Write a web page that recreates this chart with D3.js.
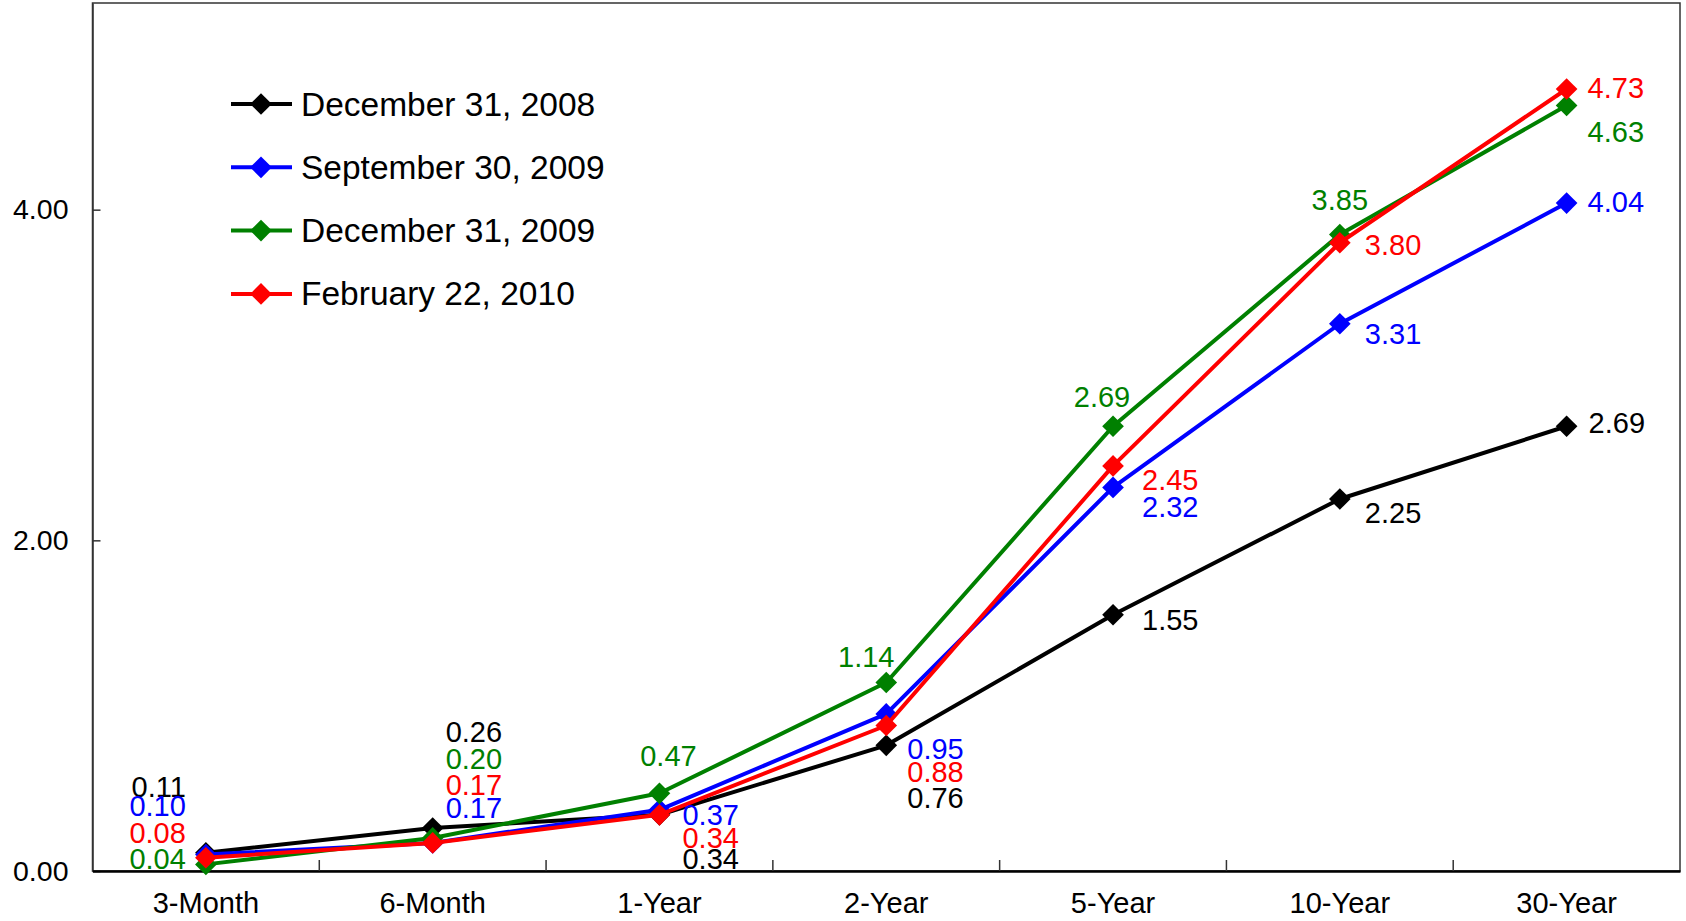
<!DOCTYPE html>
<html>
<head>
<meta charset="utf-8">
<script src="https://cdn.jsdelivr.net/npm/d3@7"></script>
<style>
  body { margin: 0; background: #fff; }
  svg text { font-family: "Liberation Sans", Arial, sans-serif; }
</style>
</head>
<body>
<div id="chart"></div>
<script>
/* global d3 */
var categories = ["3-Month", "6-Month", "1-Year", "2-Year", "5-Year", "10-Year", "30-Year"];
var seriesNames = ["December 31, 2008", "September 30, 2009", "December 31, 2009", "February 22, 2010"];
var seriesColors = ["#000000", "#0000ff", "#008000", "#ff0000"];

var dec2008 = [0.11, 0.26, 0.34, 0.76, 1.55, 2.25, 2.69];
var sep2009 = [0.10, 0.17, 0.37, 0.95, 2.32, 3.31, 4.04];
var dec2009 = [0.04, 0.20, 0.47, 1.14, 2.69, 3.85, 4.63];
var feb2010 = [0.08, 0.17, 0.34, 0.88, 2.45, 3.80, 4.73];

var yTicks = [0, 2, 4];

// label placement: [dx, dy, anchor] relative to each point
var labelPlace = [
  [[-20, -66, "end"], [13, -96, "start"], [23, 44, "start"], [21, 53, "start"], [29, 5, "start"], [25, 14, "start"], [22, -3, "start"]],
  [[-20, -48, "end"], [13, -35, "start"], [23, 5, "start"], [21, 35, "start"], [29, 20, "start"], [25, 10, "start"], [21, -1, "start"]],
  [[-20, -5, "end"], [13, -79, "start"], [9, -37, "middle"], [-20, -26, "middle"], [-11, -29, "middle"], [0, -34, "middle"], [21, 26, "start"]],
  [[-20, -25, "end"], [13, -58, "start"], [23, 23, "start"], [21, 46, "start"], [29, 14, "start"], [25, 2, "start"], [21, -1, "start"]]
];

var allSeries = [dec2008, sep2009, dec2009, feb2010];

var width = 1686,
  height = 921,
  margin = {top: 3, right: 6, bottom: 50, left: 92.5};

var svg = d3.select("#chart").append("svg")
  .attr("width", width)
  .attr("height", height);

var xScale = d3.scaleBand()
  .domain(categories)
  .range([margin.left, width - margin.right]);

var yScale = d3.scaleLinear()
  .domain([0, 5.25])
  .range([height - margin.bottom, margin.top]);

function X(d, i) { return xScale(categories[i]) + xScale.bandwidth() / 2; }
function Y(d) { return yScale(d); }

// frame
svg.append("rect")
  .attr("x", margin.left)
  .attr("y", margin.top)
  .attr("width", width - margin.right - margin.left)
  .attr("height", height - margin.bottom - margin.top)
  .attr("fill", "none")
  .attr("stroke", "#333")
  .attr("stroke-width", 1.5);

// y axis, ticks pointing inward
var yAxis = svg.append("g")
  .attr("transform", "translate(" + margin.left + ",0)")
  .call(d3.axisLeft(yScale)
    .tickValues(yTicks)
    .tickFormat(d3.format(".2f"))
    .tickSizeInner(-8)
    .tickSizeOuter(0)
    .tickPadding(24));
yAxis.select(".domain").attr("stroke", "#333").attr("stroke-width", 1.5);
yAxis.selectAll(".tick line").attr("stroke", "#333").attr("stroke-width", 1.5);
yAxis.selectAll("text").attr("font-size", 28.5).attr("fill", "#000");

// x axis
var xAxis = svg.append("g")
  .attr("transform", "translate(0," + (height - margin.bottom) + ")")
  .call(d3.axisBottom(xScale).tickSize(0).tickPadding(21));
xAxis.select(".domain").attr("stroke", "#000").attr("stroke-width", 2.5);
xAxis.selectAll("text").attr("font-size", 29).attr("fill", "#000");

// category boundary ticks
svg.append("g").selectAll("line")
  .data(categories.slice(1))
  .enter().append("line")
  .attr("x1", function (d) { return xScale(d); })
  .attr("x2", function (d) { return xScale(d); })
  .attr("y1", height - margin.bottom)
  .attr("y2", height - margin.bottom - 11)
  .attr("stroke", "#333")
  .attr("stroke-width", 1.5);

var line = d3.line()
  .x(X)
  .y(Y);

var diamond = d3.symbol().type(d3.symbolSquare).size(235);

allSeries.forEach(function (values, s) {
  var g = svg.append("g").attr("class", "series");
  g.append("path")
    .datum(values)
    .attr("d", line)
    .attr("fill", "none")
    .attr("stroke", seriesColors[s])
    .attr("stroke-width", 4)
    .attr("stroke-linejoin", "round");

  g.selectAll(".pt")
    .data(values)
    .enter().append("path")
    .attr("class", "pt")
    .attr("d", diamond)
    .attr("transform", function (d, i) { return "translate(" + X(d, i) + "," + Y(d) + ") rotate(45)"; })
    .attr("fill", seriesColors[s]);
});

// data labels (drawn after all lines)
allSeries.forEach(function (values, s) {
  svg.append("g").selectAll("text")
    .data(values)
    .enter().append("text")
    .attr("x", function (d, i) { return X(d, i) + labelPlace[s][i][0]; })
    .attr("y", function (d, i) { return Y(d) + labelPlace[s][i][1]; })
    .attr("text-anchor", function (d, i) { return labelPlace[s][i][2]; })
    .attr("dominant-baseline", "central")
    .attr("font-size", 29)
    .attr("fill", seriesColors[s])
    .text(function (d) { return d3.format(".2f")(d); });
});

// legend
var legend = svg.append("g")
  .attr("transform", "translate(231,104)");

var items = legend.selectAll("g")
  .data(seriesNames)
  .enter().append("g")
  .attr("transform", function (d, i) { return "translate(0," + (i * 63.3) + ")"; });

items.append("line")
  .attr("x1", 0).attr("x2", 61)
  .attr("stroke", function (d, i) { return seriesColors[i]; })
  .attr("stroke-width", 4);

items.append("path")
  .attr("d", diamond)
  .attr("transform", "translate(30,0) rotate(45)")
  .attr("fill", function (d, i) { return seriesColors[i]; });

items.append("text")
  .attr("x", 70)
  .attr("dominant-baseline", "central")
  .attr("font-size", 33.5)
  .attr("fill", "#000")
  .text(function (d) { return d; });
</script>
</body>
</html>
